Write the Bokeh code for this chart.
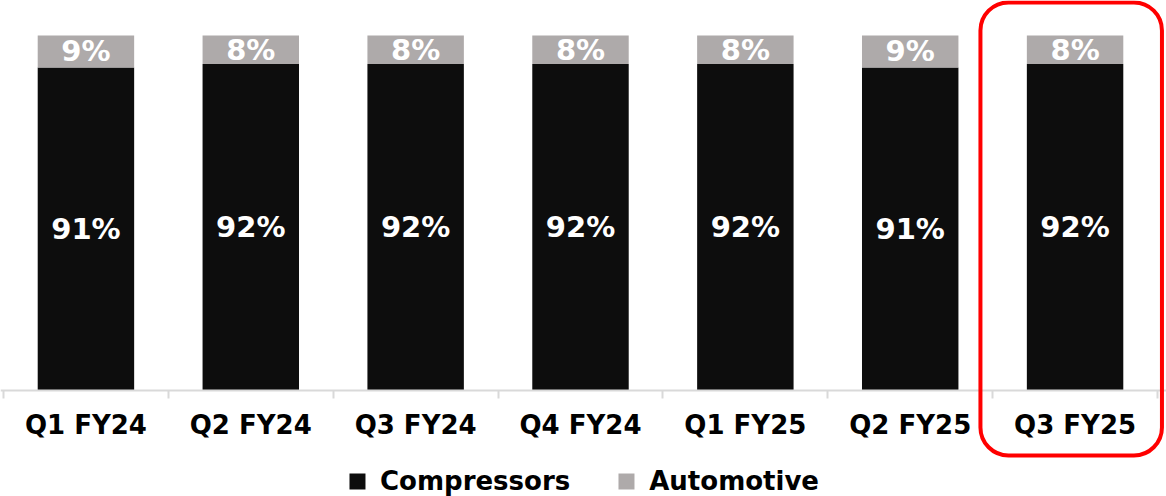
from bokeh.plotting import figure
from bokeh.models import (ColumnDataSource, Range1d, LinearAxis, FixedTicker, Legend, LegendItem,
                          BoxAnnotation)
from bokeh.embed import file_html
from bokeh.resources import INLINE
from bokeh.core.properties import value

quarters = ["Q1 FY24", "Q2 FY24", "Q3 FY24", "Q4 FY24", "Q1 FY25", "Q2 FY25", "Q3 FY25"]
compressors = [91, 92, 92, 92, 92, 91, 92]
automotive = [9, 8, 8, 8, 8, 9, 8]
highlight = "Q3 FY25"

BLACK = "#0d0d0d"
GREY = "#aeaaaa"
FONT = "DejaVu Sans"

n = len(quarters)
xc = [i + 0.5 for i in range(n)]
src = ColumnDataSource(dict(
    x=xc,
    q=quarters,
    comp=compressors,
    auto=automotive,
    comp_mid=[c / 2 for c in compressors],
    auto_bot=compressors,
    auto_top=[c + a for c, a in zip(compressors, automotive)],
    auto_mid=[c + a / 2 for c, a in zip(compressors, automotive)],
    comp_lbl=[f"{c}%" for c in compressors],
    auto_lbl=[f"{a}%" for a in automotive],
))

p = figure(frame_width=1166, frame_height=496,
           x_range=Range1d(-0.0182, n + 0.0546), y_range=Range1d(-29.86, 109.86),
           output_backend="svg", toolbar_location=None, x_axis_location=None, y_axis_location=None,
           min_border=0, outline_line_color=None)
p.xgrid.visible = False
p.ygrid.visible = False

r1 = p.vbar(x="x", bottom=0, top="comp", width=0.585, source=src, fill_color=BLACK, line_color=None)
r2 = p.vbar(x="x", bottom="auto_bot", top="auto_top", width=0.585, source=src, fill_color=GREY, line_color=None)

p.text(x="x", y="comp_mid", text="comp_lbl", source=src, text_color="white",
       text_font=value(FONT), text_font_style="bold", text_font_size="29px",
       text_align="center", text_baseline="middle")
p.text(x="x", y="auto_mid", text="auto_lbl", source=src, text_color="white",
       text_font=value(FONT), text_font_style="bold", text_font_size="29px",
       text_align="center", text_baseline="middle")

# category separator ticks
sep_ticks = list(range(n + 1))
sep_axis = LinearAxis(ticker=FixedTicker(ticks=sep_ticks), fixed_location=0,
                      major_label_overrides={t: "" for t in sep_ticks},
                      axis_line_color="#d9d9d9", axis_line_width=2,
                      major_tick_line_color="#d9d9d9", major_tick_line_width=2,
                      major_tick_out=8, major_tick_in=0, minor_tick_line_color=None,
                      major_label_text_font_size="10px", major_label_standoff=0)
p.add_layout(sep_axis, "below")

cat_axis = LinearAxis(ticker=FixedTicker(ticks=xc), fixed_location=0,
                      major_label_overrides={x: q for x, q in zip(xc, quarters)},
                      axis_line_color=None, major_tick_line_color=None, minor_tick_line_color=None,
                      major_tick_out=0, major_tick_in=0,
                      major_label_text_font=FONT, major_label_text_font_style="bold",
                      major_label_text_font_size="26px", major_label_text_color="black",
                      major_label_standoff=20)
p.add_layout(cat_axis, "below")

legend = Legend(items=[LegendItem(label="Compressors", renderers=[r1]),
                       LegendItem(label="Automotive", renderers=[r2])],
                orientation="horizontal", location="bottom_center",
                label_text_font=FONT, label_text_font_style="bold", label_text_font_size="26px",
                label_text_color="black",
                glyph_width=20, glyph_height=20, spacing=46, label_standoff=13,
                border_line_color=None, background_fill_alpha=0, padding=0, margin=0)
p.add_layout(legend)

hi = quarters.index(highlight)
hl = BoxAnnotation(left=hi - 0.074, right=hi + 1.027, top=109.3, bottom=-18.3,
                   fill_color=None, fill_alpha=0, line_color="#ff0000", line_alpha=1.0,
                   line_width=4, border_radius=28)
p.add_layout(hl)

open("out.html", "w").write(file_html(p, INLINE))
